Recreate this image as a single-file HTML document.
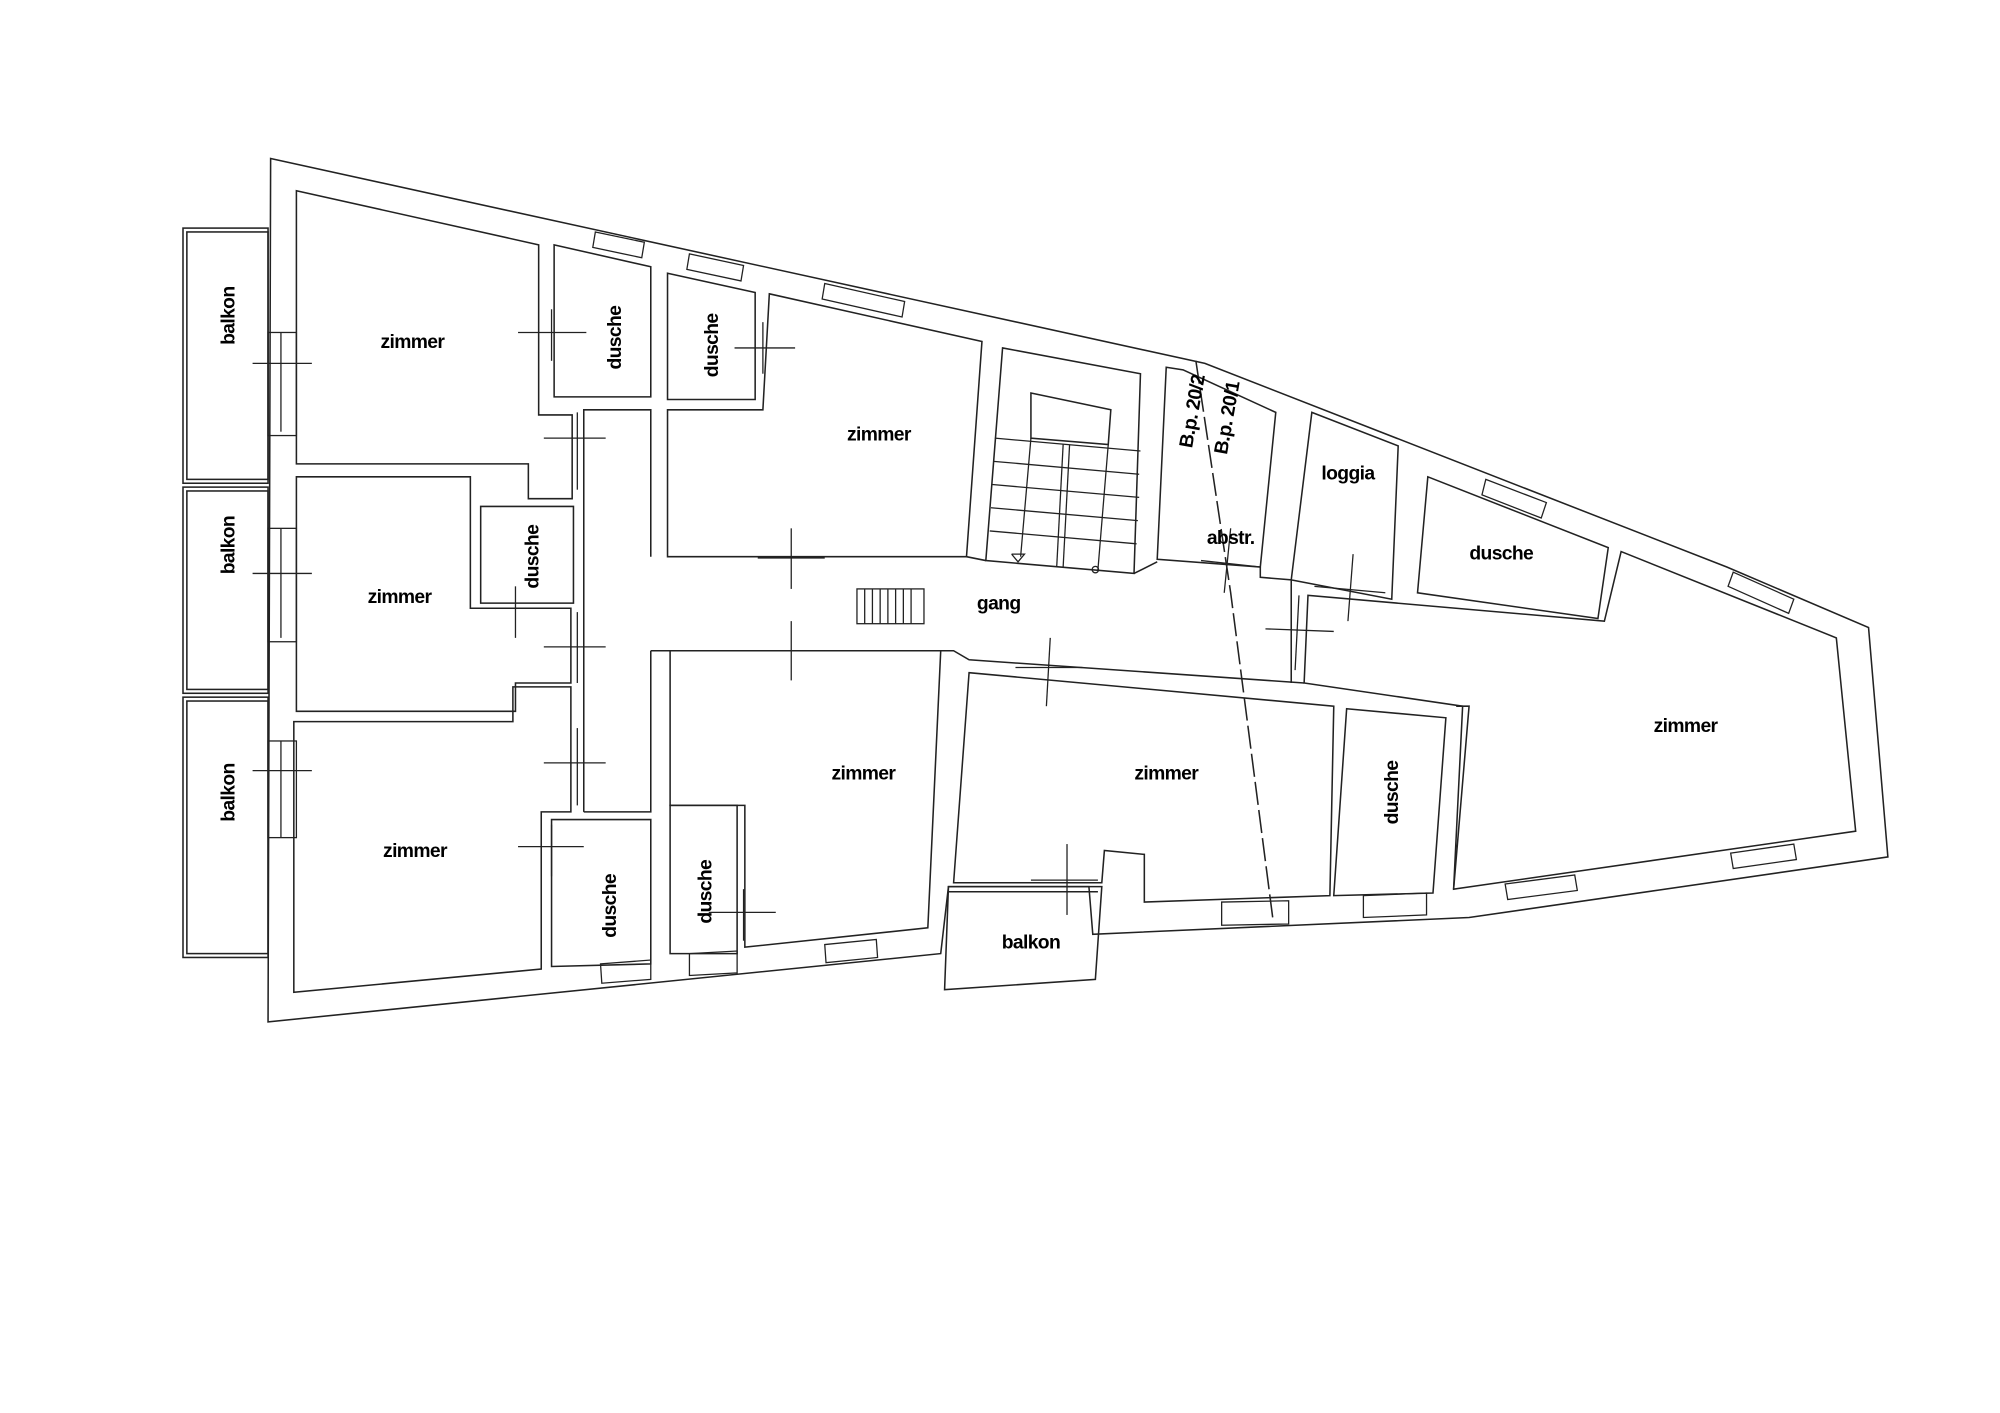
<!DOCTYPE html>
<html><head><meta charset="utf-8"><style>
html,body{margin:0;padding:0;background:#fff;}
svg{display:block}
text{font-family:"Liberation Sans",sans-serif;font-size:15px;fill:#000;font-weight:bold;letter-spacing:-0.5px;}
</style></head><body>
<svg width="2000" height="1413" viewBox="0 0 1552 1096.5" xmlns="http://www.w3.org/2000/svg">
<g fill="none" stroke="#222" stroke-width="1.2">
<polygon points="210,123 935,282 1340,440 1450,487 1465,665 1140,712 848,725 845,688 736,688 730,740 208,793"/>
<rect x="142" y="177" width="66" height="198"/>
<rect x="145" y="180" width="63" height="192"/>
<rect x="142" y="378" width="66" height="160"/>
<rect x="145" y="381" width="63" height="154"/>
<rect x="142" y="541" width="66" height="202"/>
<rect x="145" y="544" width="63" height="196"/>
<polygon points="230,148 418,190 418,322 444,322 444,387 410,387 410,360 230,360"/>
<polygon points="430,190 505,207 505,308 430,308"/>
<polyline points="453,630 453,318 505,318 505,432"/>
<polyline points="453,630 505,630 505,505"/>
<polygon points="230,370 365,370 365,472 443,472 443,530 400,530 400,552 230,552"/>
<polygon points="373,393 445,393 445,468 373,468"/>
<polygon points="228,560 398,560 398,533 443,533 443,630 420,630 420,752 228,770"/>
<polygon points="428,636 505,636 505,748 428,750"/>
<polygon points="518,212 586,227 586,310 518,310"/>
<polygon points="597,228 762,265 750,432 518,432 518,318 592,318"/>
<polygon points="778,270 885,290 880,445 765,435"/>
<polygon points="800,305 862,318 860,345 800,340"/>
<g stroke-width="1">
<line x1="772" y1="340" x2="885" y2="350"/>
<line x1="771" y1="358" x2="884" y2="368"/>
<line x1="770" y1="376" x2="884" y2="386"/>
<line x1="769" y1="394" x2="883" y2="404"/>
<line x1="768" y1="412" x2="882" y2="422"/>
<line x1="825" y1="345" x2="820" y2="440"/>
<line x1="830" y1="345" x2="825" y2="440"/>
<line x1="800" y1="340" x2="792" y2="432"/>
<line x1="860" y1="345" x2="852" y2="442"/>
<polyline points="785,430 790,436 795,430 785,430"/>
<circle cx="850" cy="442" r="2.5"/>
</g>
<polygon points="918,287 990,320 978,440 898,434 905,285"/>
<polygon points="1018,320 1085,346 1080,465 1002,450"/>
<polygon points="1108,370 1248,425 1240,480 1100,460"/>
<polygon points="1258,428 1425,495 1440,645 1128,690 1135,548 1012,530 1015,462 1245,482"/>
<polyline points="750,432 765,435"/>
<polyline points="880,445 898,436"/>
<polyline points="978,440 978,448 1002,450 1002,530"/>
<polyline points="505,505 740,505 752,512 1012,530"/>
<polygon points="752,522 1035,548 1032,695 888,700 888,663 857,660 855,685 740,685"/>
<polygon points="1045,550 1122,557 1112,693 1035,695"/>
<polyline points="1130,548 1140,548 1128,690"/>
<polygon points="520,505 730,505 720,720 578,735 578,625 520,625"/>
<polygon points="520,625 572,625 572,740 520,740"/>
<polygon points="736,688 855,688 850,760 733,768"/>
<line x1="736" y1="692" x2="852" y2="692"/>
<polyline points="928,280 955,460 988,715" stroke-dasharray="18,4"/>
<g stroke-width="1">
<line x1="196" y1="282" x2="242" y2="282"/><line x1="218" y1="258" x2="218" y2="335"/>
<line x1="196" y1="445" x2="242" y2="445"/><line x1="218" y1="410" x2="218" y2="495"/>
<line x1="196" y1="598" x2="242" y2="598"/><line x1="218" y1="575" x2="218" y2="650"/>
<line x1="402" y1="258" x2="455" y2="258"/><line x1="428" y1="240" x2="428" y2="280"/>
<line x1="422" y1="340" x2="470" y2="340"/><line x1="448" y1="320" x2="448" y2="380"/>
<line x1="422" y1="502" x2="470" y2="502"/><line x1="448" y1="475" x2="448" y2="530"/>
<line x1="422" y1="592" x2="470" y2="592"/><line x1="448" y1="565" x2="448" y2="625"/>
<line x1="402" y1="657" x2="453" y2="657"/><line x1="428" y1="640" x2="428" y2="680"/>
<line x1="385" y1="472" x2="430" y2="472"/><line x1="400" y1="455" x2="400" y2="495"/>
<line x1="570" y1="270" x2="617" y2="270"/><line x1="592" y1="250" x2="592" y2="290"/>
<line x1="588" y1="433" x2="640" y2="433"/><line x1="614" y1="410" x2="614" y2="457"/>
<line x1="588" y1="505" x2="640" y2="505"/><line x1="614" y1="482" x2="614" y2="528"/>
<line x1="550" y1="708" x2="602" y2="708"/><line x1="577" y1="690" x2="577" y2="730"/>
<line x1="788" y1="518" x2="840" y2="518"/><line x1="815" y1="495" x2="812" y2="548"/>
<line x1="800" y1="683" x2="852" y2="683"/><line x1="828" y1="655" x2="828" y2="710"/>
<line x1="982" y1="488" x2="1035" y2="490"/><line x1="1008" y1="462" x2="1005" y2="520"/>
<line x1="1020" y1="455" x2="1075" y2="460"/><line x1="1050" y1="430" x2="1046" y2="482"/>
<line x1="932" y1="435" x2="978" y2="440"/><line x1="955" y1="410" x2="950" y2="460"/>
</g>
<g stroke-width="1">
<polygon points="462,180 500,188 498,200 460,192"/>
<polygon points="535,197 577,206 575,218 533,209"/>
<polygon points="640,220 702,234 700,246 638,232"/>
<polygon points="1153,372 1200,390 1196,402 1150,384"/>
<polygon points="1345,444 1392,465 1388,476 1341,455"/>
<polygon points="1343,662 1392,655 1394,667 1345,674"/>
<polygon points="1168,686 1222,679 1224,691 1170,698"/>
<polygon points="1058,695 1107,693 1107,710 1058,712"/>
<polygon points="948,700 1000,699 1000,717 948,718"/>
<polygon points="640,733 680,729 681,743 641,747"/>
<polygon points="535,740 572,738 572,755 535,757"/>
<polygon points="466,748 505,745 505,760 467,763"/>
<rect x="208" y="258" width="22" height="80"/>
<rect x="208" y="410" width="22" height="88"/>
<rect x="208" y="575" width="22" height="75"/>
<rect x="665" y="457" width="52" height="27"/>
<line x1="671" y1="457" x2="671" y2="484"/><line x1="677" y1="457" x2="677" y2="484"/>
<line x1="683" y1="457" x2="683" y2="484"/><line x1="689" y1="457" x2="689" y2="484"/>
<line x1="695" y1="457" x2="695" y2="484"/><line x1="701" y1="457" x2="701" y2="484"/>
<line x1="707" y1="457" x2="707" y2="484"/>
</g>
</g>
<g>
<text x="320" y="270" text-anchor="middle">zimmer</text>
<text x="682" y="342" text-anchor="middle">zimmer</text>
<text x="310" y="468" text-anchor="middle">zimmer</text>
<text x="322" y="665" text-anchor="middle">zimmer</text>
<text x="670" y="605" text-anchor="middle">zimmer</text>
<text x="905" y="605" text-anchor="middle">zimmer</text>
<text x="1308" y="568" text-anchor="middle">zimmer</text>
<text x="775" y="473" text-anchor="middle">gang</text>
<text x="955" y="422" text-anchor="middle">abstr.</text>
<text x="1046" y="372" text-anchor="middle">loggia</text>
<text x="1165" y="434" text-anchor="middle">dusche</text>
<text x="800" y="736" text-anchor="middle">balkon</text>
<text transform="translate(182,245) rotate(-90)" text-anchor="middle">balkon</text>
<text transform="translate(182,423) rotate(-90)" text-anchor="middle">balkon</text>
<text transform="translate(182,615) rotate(-90)" text-anchor="middle">balkon</text>
<text transform="translate(482,262) rotate(-90)" text-anchor="middle">dusche</text>
<text transform="translate(557,268) rotate(-90)" text-anchor="middle">dusche</text>
<text transform="translate(418,432) rotate(-90)" text-anchor="middle">dusche</text>
<text transform="translate(478,703) rotate(-90)" text-anchor="middle">dusche</text>
<text transform="translate(552,692) rotate(-90)" text-anchor="middle">dusche</text>
<text transform="translate(1085,615) rotate(-90)" text-anchor="middle">dusche</text>
<text transform="translate(930,320) rotate(-80)" text-anchor="middle">B.p. 20/2</text>
<text transform="translate(957,325) rotate(-80)" text-anchor="middle">B.p. 20/1</text>
</g>
</svg>
</body></html>
